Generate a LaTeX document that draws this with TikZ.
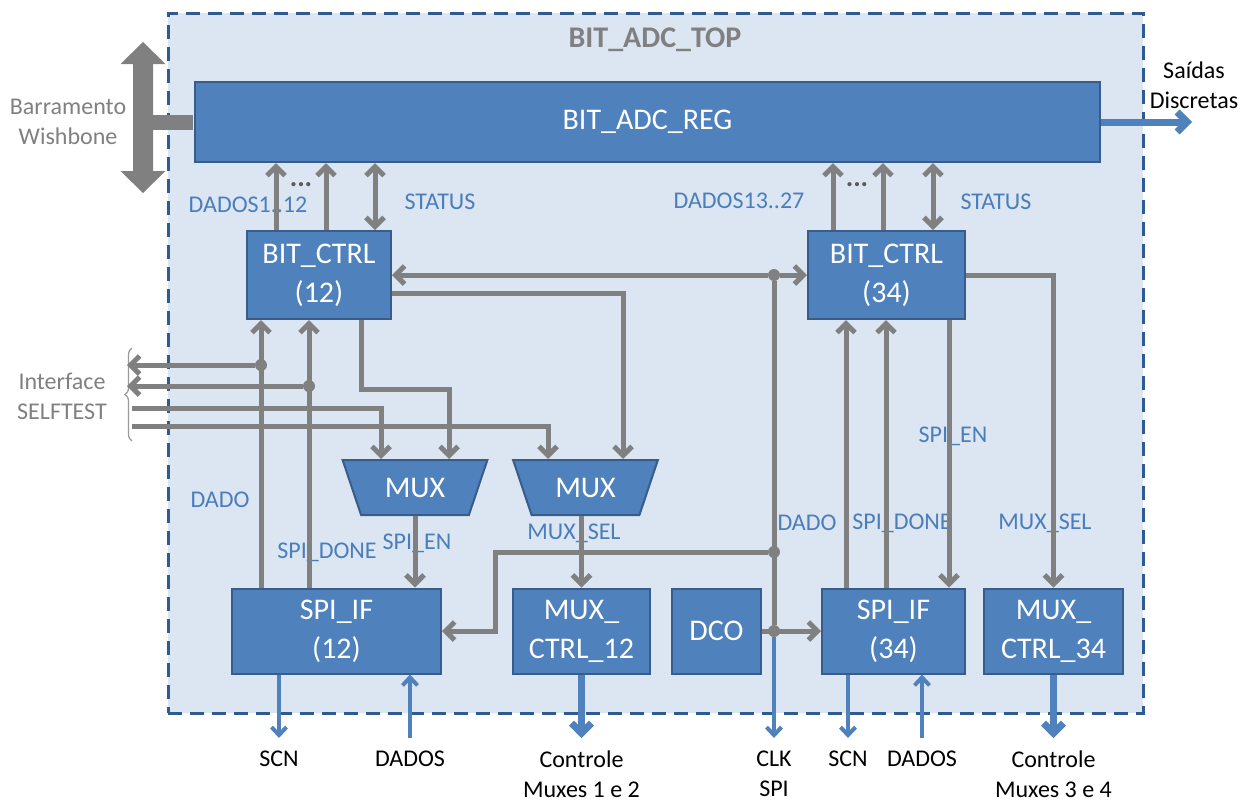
\documentclass[tikz,border=0pt]{standalone}
\usepackage{fontspec}
\setmainfont{Carlito}
\usetikzlibrary{arrows.meta,shapes.geometric,decorations.pathreplacing}

\definecolor{blkfill}{HTML}{4F81BD}
\definecolor{blkline}{HTML}{385D8A}
\definecolor{areafill}{HTML}{DCE6F2}
\definecolor{arealine}{HTML}{2F5B90}
\definecolor{wiregray}{HTML}{808080}
\definecolor{lblblue}{HTML}{4A7EBB}

\begin{document}
\begin{tikzpicture}[
  x=0.5pt, y=-0.5pt,
  font=\fontsize{12}{15}\selectfont,
  blk/.style={draw=blkline, fill=blkfill, line width=1pt, text=white,
    align=center, inner sep=0pt, font=\fontsize{15}{19.5}\selectfont},
  mux/.style={blk, trapezium, shape border rotate=180, trapezium stretches=true,
    trapezium angle=62, minimum width=72.5pt, minimum height=27.5pt},
  lbl/.style={text=lblblue, inner sep=1pt},
  ext/.style={align=center, anchor=north},
  side/.style={align=center, text=wiregray},
  wire/.style={draw=wiregray, line width=2.5pt, -{Straight Barb[length=4.5pt,width=9pt]}},
  bus/.style={wire, {Straight Barb[length=4.5pt,width=9pt]}-{Straight Barb[length=4.5pt,width=9pt]}},
  sig/.style={draw=blkfill, line width=2pt, -{Straight Barb[length=4pt,width=7.5pt]}},
  sigw/.style={draw=blkfill, line width=3.5pt, -{Straight Barb[length=5pt,width=10pt]}},
  jdot/.style={circle, fill=wiregray, inner sep=0pt, minimum size=6pt}
]
\useasboundingbox (0,0) rectangle (1249,805);

% ── The top-level area ────────────────────────────────────────────────────
\node[draw=arealine, fill=areafill, dash pattern=on 7pt off 4pt, line width=1.5pt,
  minimum width=487.5pt, minimum height=350pt] (top) at (655.5,363) {};
\node[font=\fontsize{15}{18}\selectfont\bfseries, text=wiregray] (title)
  at (655,40) {BIT\_ADC\_TOP};

% ── Blocks ────────────────────────────────────────────────────────────────
\node[blk, minimum width=452.5pt, minimum height=40pt] (reg) at (647.5,122) {BIT\_ADC\_REG};
\node[blk, minimum width=72pt, minimum height=44pt] (ctrlA) at (319,275) {BIT\_CTRL\\(12)};
\node[blk, minimum width=78.5pt, minimum height=44pt] (ctrlB) at (886.5,275) {BIT\_CTRL\\(34)};
\node[mux] (muxA) at (415,487.5) {MUX};
\node[mux] (muxB) at (585.5,487.5) {MUX};
\node[blk, minimum width=104.5pt, minimum height=42.5pt] (spiA) at (336.5,631) {SPI\_IF\\(12)};
\node[blk, minimum width=68.5pt, minimum height=42.5pt] (mctrlA) at (581.5,631) {MUX\_\\CTRL\_12};
\node[blk, minimum width=44.5pt, minimum height=42.5pt] (dco) at (716.5,631) {DCO};
\node[blk, minimum width=71.5pt, minimum height=42.5pt] (spiB) at (893.5,631) {SPI\_IF\\(34)};
\node[blk, minimum width=69.5pt, minimum height=42.5pt] (mctrlB) at (1053.5,631) {MUX\_\\CTRL\_34};

% ── Wishbone bus ──────────────────────────────────────────────────────────
\fill[wiregray] (143,42) -- (165.5,64) -- (153,64) -- (153,171) -- (165.5,171)
  -- (143,193) -- (120.5,171) -- (133,171) -- (133,64) -- (120.5,64) -- cycle;
\draw[wiregray, line width=7.5pt] ([xshift=-0.5pt]reg.west) -- ++(-52,0);
\node[side] (wb) at (68,122) {Barramento\\Wishbone};

% ── Outside texts ─────────────────────────────────────────────────────────
\node[side] (selft) at (62,396) {Interface\\SELFTEST};
\draw[wiregray!80, line width=0.6pt, decorate, decoration={brace, amplitude=3.5pt}]
  (132,441) -- (132,348);
\node[align=center] (saidas) at (1194,85) {Saídas\\Discretas};
\coordinate (sout) at (1192,122);

\node[ext] (scnA) at (279,744) {SCN};
\node[ext] (dadosA) at (410,744) {DADOS};
\node[ext] (ctlA) at (581.5,744) {Controle\\Muxes 1 e 2};
\node[ext] (clk) at (774,744) {CLK\\SPI};
\node[ext] (scnB) at (848,744) {SCN};
\node[ext] (dadosB) at (922,744) {DADOS};
\node[ext] (ctlB) at (1053.5,744) {Controle\\Muxes 3 e 4};

% ── Signal names ──────────────────────────────────────────────────────────
\node[lbl] (lDadosA) at (248,205) {DADOS1..12};
\node[lbl] (lStatA) at (440,202) {STATUS};
\node[lbl] (lDadosB) at (739,201) {DADOS13..27};
\node[lbl] (lStatB) at (996,202) {STATUS};
\node[lbl] (lDadoA) at (220,500) {DADO};
\node[lbl] (lDoneA) at (327,552) {SPI\_DONE};
\node[lbl] (lEnA) at (417,543) {SPI\_EN};
\node[lbl] (lSelA) at (574,533) {MUX\_SEL};
\node[lbl] (lDadoB) at (807,523) {DADO};
\node[lbl] (lDoneB) at (902,523) {SPI\_DONE};
\node[lbl] (lEnB) at (953,436) {SPI\_EN};
\node[lbl] (lSelB) at (1045,523) {MUX\_SEL};
\node[text=wiregray!70!black, font=\fontsize{14}{14}\selectfont\bfseries] (dotsA) at (301,185) {...};
\node[text=wiregray!70!black, font=\fontsize{14}{14}\selectfont\bfseries] (dotsB) at (857,185) {...};

% ── Junctions ─────────────────────────────────────────────────────────────
\node[jdot] (jdA) at (261,365) {};
\node[jdot] (jsA) at (309,386) {};
\node[jdot] (jc1) at (774,275) {};
\node[jdot] (jc2) at (774,552) {};
\node[jdot] (jc3) at (774,631) {};
\coordinate (self1) at (127,365);
\coordinate (self2) at (127,386);
\coordinate (self3) at (132,408);
\coordinate (self4) at (132,426);

% ── BIT_CTRL to register ──────────────────────────────────────────────────
\foreach \dx in {-21.5pt,3.5pt}
  \draw[wire] ([xshift=\dx]ctrlA.north) -- ([xshift=\dx]ctrlA.north |- reg.south);
\draw[bus] ([xshift=28pt]ctrlA.north) -- ([xshift=28pt]ctrlA.north |- reg.south);
\foreach \dx in {-26.75pt,-1.75pt}
  \draw[wire] ([xshift=\dx]ctrlB.north) -- ([xshift=\dx]ctrlB.north |- reg.south);
\draw[bus] ([xshift=23.25pt]ctrlB.north) -- ([xshift=23.25pt]ctrlB.north |- reg.south);

% ── Left half ─────────────────────────────────────────────────────────────
\draw[wire] (spiA.north -| jdA) -- (ctrlA.south -| jdA);
\draw[wire] (spiA.north -| jsA) -- (ctrlA.south -| jsA);
\draw[wire] (jdA) -- (self1);
\draw[wire] (jsA) -- (self2);
\draw[wire] (self3) -| ([xshift=-17pt]muxA.north);
\draw[wire] (self4) -| ([xshift=-18.75pt]muxB.north);
\draw[wire] ([xshift=21pt]ctrlA.south) -- ++(0,69) -| ([xshift=17pt]muxA.north);
\draw[wire] ([yshift=-9pt]ctrlA.east) -| ([xshift=18.75pt]muxB.north);
\draw[wire] (muxA.south) -- (spiA.north -| muxA.south);
\draw[wire] (mctrlA.north |- muxB.south) -- (mctrlA.north);

% ── Clock tree ────────────────────────────────────────────────────────────
\draw[wire, -] (jc3) -- (jc1);
\draw[wire] (jc1) -- (ctrlA.east |- jc1);
\draw[wire] (jc1) -- (ctrlB.west |- jc1);
\draw[wire] (jc2) -| ([xshift=26.5pt]spiA.east) -- (spiA.east);
\draw[wire] (dco.east) -- (spiB.west);

% ── Right half ────────────────────────────────────────────────────────────
\foreach \dx in {-23.75pt,-3.75pt}
  \draw[wire] ([xshift=\dx]spiB.north) -- ([xshift=\dx]spiB.north |- ctrlB.south);
\draw[wire] ([xshift=31.25pt]ctrlB.south) -- ([xshift=31.25pt]ctrlB.south |- spiB.north);
\draw[wire] (ctrlB.east) -| (mctrlB.north);

% ── External signals ──────────────────────────────────────────────────────
\draw[sigw] (reg.east) -- (sout);
\draw[sig] (spiA.south -| scnA) -- ([yshift=3pt]scnA.north);
\draw[sig] ([yshift=3pt]dadosA.north) -- (spiA.south -| dadosA);
\draw[sigw] (mctrlA.south) -- ([yshift=3pt]ctlA.north);
\draw[sig] (jc3) -- ([yshift=3pt]clk.north);
\draw[sig] (spiB.south -| scnB) -- ([yshift=3pt]scnB.north);
\draw[sig] ([yshift=3pt]dadosB.north) -- (spiB.south -| dadosB);
\draw[sigw] (mctrlB.south) -- ([yshift=3pt]ctlB.north);

\end{tikzpicture}
\end{document}
